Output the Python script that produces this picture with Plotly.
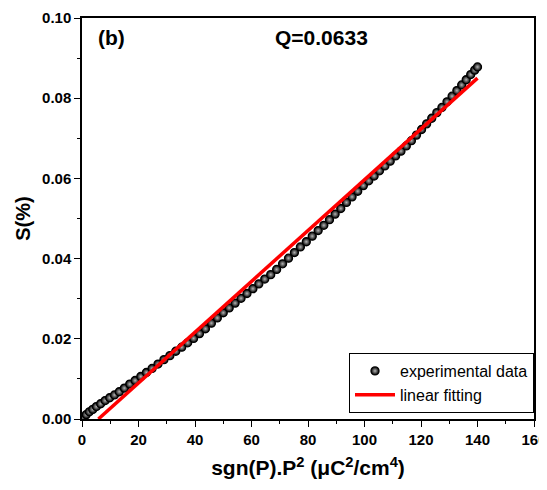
import plotly.graph_objects as go

p2_exp = [0, 0.6, 1.5, 2.6, 3.8, 5.1, 6.6, 8.2, 9.8, 11.5, 13.2, 15.0, 16.9, 18.8,
          20.8, 22.8, 24.8, 26.9, 29.0, 31.1, 33.2, 35.3, 37.4, 39.5, 41.6, 43.7,
          45.8, 47.9, 50.0, 52.1, 54.2, 56.3, 58.4, 60.5, 62.6, 64.7, 66.8, 68.9,
          71.0, 73.1, 75.2, 77.3, 79.4, 81.5, 83.6, 85.6, 87.6, 89.6, 91.6, 93.6,
          95.6, 97.6, 99.6, 101.5, 103.4, 105.3, 107.2, 109.1, 111.0, 112.9, 114.8,
          116.6, 118.4, 120.2, 122.0, 123.8, 125.6, 127.4, 129.2, 131.0, 132.7,
          134.4, 136.0, 137.6, 139.0, 140.0]
s_exp = [0.0000, 0.0004, 0.0011, 0.0018, 0.0024, 0.0031, 0.0038, 0.0046, 0.0053,
         0.0060, 0.0068, 0.0077, 0.0087, 0.0096, 0.0106, 0.0116, 0.0126, 0.0137,
         0.0148, 0.0158, 0.0169, 0.0179, 0.0190, 0.0201, 0.0213, 0.0225, 0.0239,
         0.0252, 0.0265, 0.0277, 0.0289, 0.0301, 0.0313, 0.0325, 0.0337, 0.0349,
         0.0360, 0.0373, 0.0387, 0.0401, 0.0415, 0.0429, 0.0442, 0.0456, 0.0470,
         0.0483, 0.0497, 0.0511, 0.0525, 0.0540, 0.0554, 0.0568, 0.0582, 0.0594,
         0.0606, 0.0619, 0.0631, 0.0643, 0.0656, 0.0668, 0.0681, 0.0694, 0.0708,
         0.0722, 0.0736, 0.0750, 0.0764, 0.0777, 0.0791, 0.0805, 0.0819, 0.0833,
         0.0846, 0.0859, 0.0870, 0.0878]

# linear fit end points
p2_fit = [5.8, 140.0]
s_fit = [0.0, 0.0850]

x_ticks = [0, 20, 40, 60, 80, 100, 120, 140, 160]
y_ticks = [0.00, 0.02, 0.04, 0.06, 0.08, 0.10]

FONT = "Arial, Liberation Sans, sans-serif"

fig = go.Figure()
fig.add_trace(go.Scatter(
    x=p2_exp, y=s_exp, mode="markers", name="experimental data",
    marker=dict(size=8, color="black",
                gradient=dict(type="radial", color="#b4b4b4"),
                line=dict(color="black", width=1.3)),
))
fig.add_trace(go.Scatter(
    x=p2_fit, y=s_fit, mode="lines", name="linear fitting",
    line=dict(color="#ff0000", width=3.5),
))

axis_common = dict(
    showline=True, linecolor="black", linewidth=1.5, mirror=True,
    ticks="outside", ticklen=6, tickwidth=1.3, tickcolor="black",
    showgrid=False, zeroline=False, automargin=False, ticklabeloverflow="allow",
    tickfont=dict(family=FONT, size=15, color="black", weight="bold"),
)

fig.update_xaxes(
    range=[0, 160], tickvals=x_ticks,
    minor=dict(dtick=10, ticks="outside", ticklen=3, tickcolor="black", tickwidth=1.2),
    title=dict(text="<b>sgn(P).P<sup>2</sup> (μC<sup>2</sup>/cm<sup>4</sup>)</b>",
               font=dict(family=FONT, size=21, color="black"), standoff=14),
    **axis_common,
)
fig.update_yaxes(
    range=[0, 0.10], tickvals=y_ticks, tickformat=".2f",
    minor=dict(dtick=0.01, ticks="outside", ticklen=3, tickcolor="black", tickwidth=1.2),
    title=dict(text="<b>S(%)</b>", font=dict(family=FONT, size=20, color="black"),
               standoff=6),
    **axis_common,
)

fig.add_annotation(x=0.031, y=0.952, xref="paper", yref="paper", text="<b>(b)</b>",
                   showarrow=False, xanchor="left", yanchor="middle",
                   font=dict(family=FONT, size=21, color="black"))
fig.add_annotation(x=0.529, y=0.952, xref="paper", yref="paper",
                   text="<b>Q=0.0633</b>", showarrow=False, xanchor="center",
                   yanchor="middle", font=dict(family=FONT, size=21, color="black"))

# page body has an 8px margin, so the figure is sized to fit inside the window
fig.update_layout(
    width=531, height=474,
    margin=dict(l=74, r=5, t=10, b=63),
    paper_bgcolor="white", plot_bgcolor="white",
    legend=dict(x=1, y=0.015, xanchor="right", yanchor="bottom",
                bordercolor="black", borderwidth=1, bgcolor="white",
                font=dict(family=FONT, size=16, color="black"),
                tracegroupgap=0, itemwidth=40),
    showlegend=True,
)

fig.write_html("out.html")
